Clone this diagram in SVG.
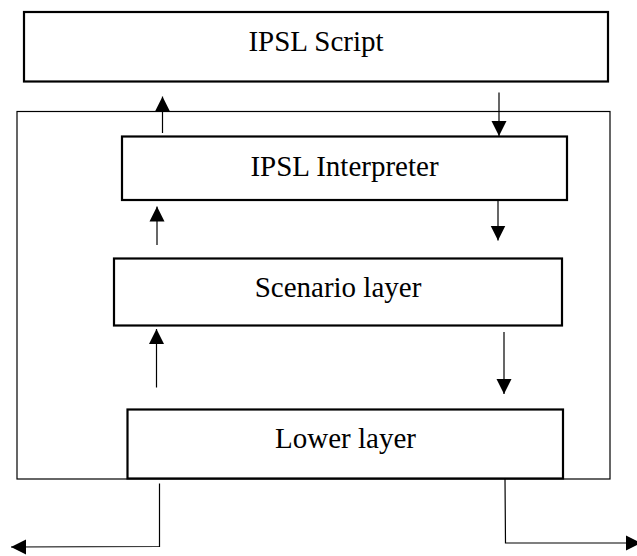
<svg xmlns="http://www.w3.org/2000/svg" width="637" height="556" viewBox="0 0 637 556">
  <style>
    .box { fill: #ffffff; stroke: #000000; stroke-width: 2.2; }
    .frame { fill: none; stroke: #000000; stroke-width: 1.2; }
    .label { font-family: "Liberation Serif", "Times New Roman", serif; font-size: 29px; fill: #000000; text-anchor: middle; }
    .wire { fill: none; stroke: #000000; stroke-width: 1.2; marker-end: url(#head); }
    .plain { fill: none; stroke: #000000; stroke-width: 1.2; }
  </style>
  <defs>
    <marker id="head" viewBox="0 0 10 10" refX="10" refY="5" markerWidth="15" markerHeight="16" markerUnits="userSpaceOnUse" orient="auto">
      <path d="M0,0 L10,5 L0,10 z" fill="#000000"/>
    </marker>
  </defs>

  <rect width="637" height="556" fill="#ffffff"/>

  <!-- enclosing system frame -->
  <g id="system-frame">
    <rect class="frame" x="17" y="111.5" width="593" height="367.5"/>
  </g>

  <g id="ipsl-script">
    <rect class="box" x="24" y="12" width="584" height="69.5"/>
    <text class="label" x="316" y="51">IPSL Script</text>
  </g>

  <g id="ipsl-interpreter">
    <rect class="box" x="122" y="136.5" width="445" height="63.5"/>
    <text class="label" x="344.5" y="175.5">IPSL Interpreter</text>
  </g>

  <g id="scenario-layer">
    <rect class="box" x="114" y="258.5" width="448" height="67"/>
    <text class="label" x="338" y="296.5">Scenario layer</text>
  </g>

  <g id="lower-layer">
    <rect class="box" x="127.5" y="409.5" width="435.5" height="69"/>
    <text class="label" x="345.5" y="447.5">Lower layer</text>
  </g>

  <g id="connectors">
    <!-- upward flow -->
    <line class="wire" x1="162.5" y1="133" x2="162.5" y2="96.5"/>
    <line class="wire" x1="157" y1="245" x2="157" y2="206.5"/>
    <line class="wire" x1="156.5" y1="387.5" x2="156.5" y2="329"/>
    <!-- downward flow -->
    <line class="wire" x1="499" y1="92.5" x2="499" y2="136"/>
    <line class="wire" x1="498" y1="201" x2="498" y2="240.5"/>
    <line class="wire" x1="504" y1="332" x2="504" y2="394"/>
    <!-- exits below the frame -->
    <polyline class="wire" points="159.5,483.5 159.5,546.5 11,547"/>
    <polyline class="wire" points="505,479 505.5,543 641,543"/>
  </g>
</svg>
